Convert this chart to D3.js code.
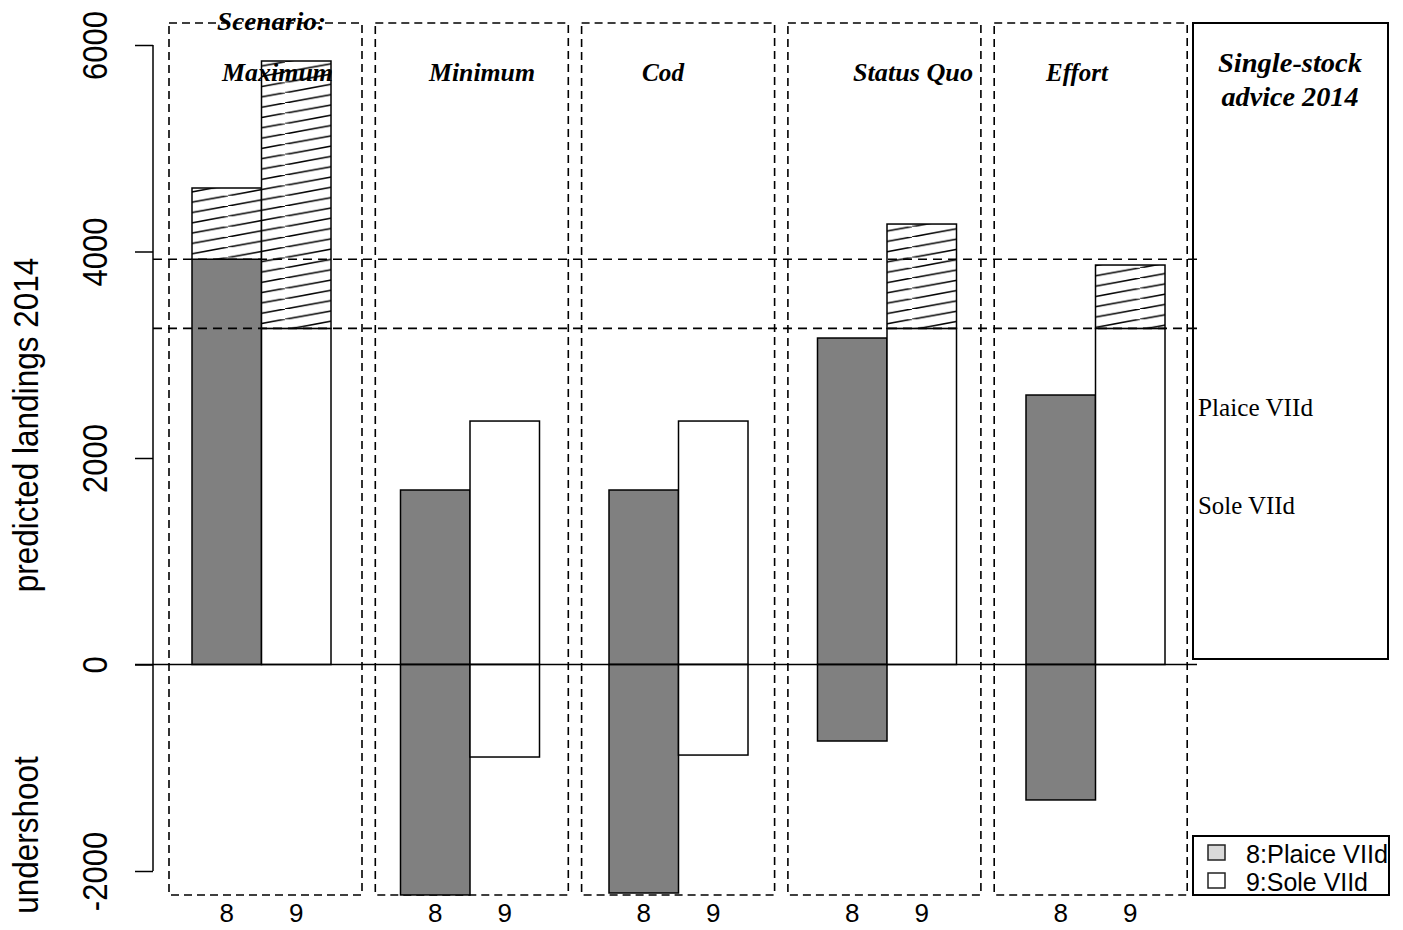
<!DOCTYPE html>
<html>
<head>
<meta charset="utf-8">
<script src="https://cdn.jsdelivr.net/npm/d3@7"></script>
<style>
html,body{margin:0;padding:0;background:#fff;}
svg{display:block;}
</style>
</head>
<body>
<script>
// ---------- data ----------
const scenarios = ["Maximum", "Minimum", "Cod", "Status Quo", "Effort"];
const stocks = ["Plaice VIId", "Sole VIId"];
const stockCodes = ["8", "9"];
const legendLabels = ["8:Plaice VIId", "9:Sole VIId"];
const adviceValues = [3925, 3255];               // single-stock advice 2014 (plaice, sole)
const plaiceLandings = [4615, 1690, 1690, 3162, 2610];
const soleLandings = [5845, 2358, 2358, 4266, 3869];
const plaiceUndershoot = [0, -2232, -2213, -741, -1312];
const soleUndershoot = [0, -896, -877, 0, 0];
const yTicks = [-2000, 0, 2000, 4000, 6000];
const yTickLabels = ["-2000", "0", "2000", "4000", "6000"];

// ---------- layout ----------
const W = 1403, H = 930;
const svg = d3.select("body").append("svg").attr("width", W).attr("height", H);

const y = d3.scaleLinear().domain([-2000, 6000]).range([871, 45]);
const x = d3.scaleLinear().domain([0, 1]).range([122.5, 192]); // bar units
const panelX = d3.scaleLinear().domain([0, 1]).range([169, 375.3]);
const panelW = 193, panelTop = 23, panelBottom = 895;

// hatch pattern
const defs = svg.append("defs");
const tileW = 57, tileH = 10.3;
const pat = defs.append("pattern").attr("id", "hatch")
  .attr("patternUnits", "userSpaceOnUse")
  .attr("width", tileW).attr("height", tileH);
pat.append("rect").attr("width", tileW).attr("height", tileH).attr("fill", "#fff");
pat.append("line").attr("x1", -tileW * 0.1).attr("y1", tileH * 1.1)
  .attr("x2", tileW * 1.1).attr("y2", -tileH * 0.1)
  .attr("stroke", "#000").attr("stroke-width", 1.6);

// panels (dashed)
svg.append("g").selectAll("rect").data(scenarios).join("rect")
  .attr("x", (d, i) => panelX(i)).attr("y", panelTop)
  .attr("width", panelW).attr("height", panelBottom - panelTop)
  .attr("fill", "none").attr("stroke", "#000").attr("stroke-width", 1.6)
  .attr("stroke-dasharray", "8,5");

// bars
const gBars = svg.append("g");
function drawStock(values, under, advice, k, fill) {
  values.forEach((v, i) => {
    const u0 = 1 + 3 * i + k, u1 = u0 + 1;
    const base = Math.min(v, advice);
    gBars.append("rect")
      .attr("x", x(u0)).attr("width", x(u1) - x(u0))
      .attr("y", y(base)).attr("height", y(0) - y(base))
      .attr("fill", fill).attr("stroke", "#000").attr("stroke-width", 1.5);
    if (v > advice) {
      gBars.append("rect")
        .attr("x", x(u0)).attr("width", x(u1) - x(u0))
        .attr("y", y(v)).attr("height", y(advice) - y(v))
        .attr("fill", "url(#hatch)").attr("stroke", "#000").attr("stroke-width", 1.5);
    }
    if (under[i] < 0) {
      gBars.append("rect")
        .attr("x", x(u0)).attr("width", x(u1) - x(u0))
        .attr("y", y(0)).attr("height", y(under[i]) - y(0))
        .attr("fill", fill).attr("stroke", "#000").attr("stroke-width", 1.5);
    }
  });
}
drawStock(plaiceLandings, plaiceUndershoot, adviceValues[0], 0, "#808080");
drawStock(soleLandings, soleUndershoot, adviceValues[1], 1, "#ffffff");

// advice lines
svg.append("g").selectAll("line").data(adviceValues).join("line")
  .attr("x1", 153).attr("x2", 1197)
  .attr("y1", d => y(d)).attr("y2", d => y(d))
  .attr("stroke", "#000").attr("stroke-width", 1.6).attr("stroke-dasharray", "9,6");

// zero line
svg.append("line").attr("x1", 135).attr("x2", 1197)
  .attr("y1", y(0)).attr("y2", y(0))
  .attr("stroke", "#000").attr("stroke-width", 1.5);

// y axis
const yAxis = d3.axisLeft(y).tickValues(yTicks).tickSize(18);
const gy = svg.append("g").attr("transform", "translate(153,0)").call(yAxis);
gy.select(".domain").attr("d", `M0,${y(-2000)}V${y(6000)}`).attr("stroke-width", 1.5);
gy.selectAll(".tick line").attr("stroke-width", 1.5);
gy.selectAll(".tick text").remove();
gy.selectAll(".tick").append("text")
  .attr("transform", "translate(-46,0) rotate(-90) scale(1,1.12)")
  .attr("text-anchor", "middle").attr("dy", 0)
  .attr("fill", "#000")
  .style("font-family", "'Liberation Sans', Arial, sans-serif").style("font-size", "31px")
  .text((d, i) => yTickLabels[i]);

// y axis titles
svg.append("text").attr("transform", "translate(38,425) rotate(-90) scale(1,1.1)")
  .attr("text-anchor", "middle")
  .style("font-family", "'Liberation Sans', Arial, sans-serif").style("font-size", "31.5px")
  .text("predicted landings 2014");
svg.append("text").attr("transform", "translate(38,835) rotate(-90) scale(1,1.1)")
  .attr("text-anchor", "middle")
  .style("font-family", "'Liberation Sans', Arial, sans-serif").style("font-size", "31.5px")
  .text("undershoot");

// x labels (stock codes)
const xl = [];
scenarios.forEach((s, i) => stockCodes.forEach((c, k) => xl.push({ u: 1.5 + 3 * i + k, c })));
svg.append("g").selectAll("text").data(xl).join("text")
  .attr("x", d => x(d.u)).attr("y", 922)
  .attr("text-anchor", "middle")
  .style("font-family", "'Liberation Sans', Arial, sans-serif").style("font-size", "26px")
  .text(d => d.c);

// scenario titles
const titleFont = "'Liberation Serif', 'Times New Roman', serif";
const titleX = [277.5, 482, 663, 913, 1077];
const titleW = [111, 106, 42, 120, 62];
svg.append("g").selectAll("text").data(scenarios).join("text")
  .attr("x", (d, i) => titleX[i]).attr("y", 81)
  .attr("text-anchor", "middle")
  .attr("textLength", (d, i) => titleW[i]).attr("lengthAdjust", "spacingAndGlyphs")
  .style("font-family", titleFont).style("font-size", "25px")
  .style("font-weight", "bold").style("font-style", "italic")
  .text(d => d);
svg.append("text").attr("x", 271.5).attr("y", 30).attr("text-anchor", "middle")
  .attr("textLength", 109).attr("lengthAdjust", "spacingAndGlyphs")
  .style("font-family", titleFont).style("font-size", "25px")
  .style("font-weight", "bold").style("font-style", "italic")
  .text("Scenario:");

// right advice box
svg.append("rect").attr("x", 1193).attr("y", 23).attr("width", 195).attr("height", 636)
  .attr("fill", "none").attr("stroke", "#000").attr("stroke-width", 2);
svg.append("text").attr("x", 1290).attr("y", 72).attr("text-anchor", "middle")
  .attr("textLength", 144).attr("lengthAdjust", "spacingAndGlyphs")
  .style("font-family", titleFont).style("font-size", "28px")
  .style("font-weight", "bold").style("font-style", "italic")
  .text("Single-stock");
svg.append("text").attr("x", 1290).attr("y", 106).attr("text-anchor", "middle")
  .attr("textLength", 137).attr("lengthAdjust", "spacingAndGlyphs")
  .style("font-family", titleFont).style("font-size", "28px")
  .style("font-weight", "bold").style("font-style", "italic")
  .text("advice 2014");
const stockLabelY = [416, 514];
const stockLabelW = [115, 97];
svg.append("g").selectAll("text").data(stocks).join("text")
  .attr("x", 1198).attr("y", (d, i) => stockLabelY[i])
  .attr("textLength", (d, i) => stockLabelW[i]).attr("lengthAdjust", "spacingAndGlyphs")
  .style("font-family", titleFont).style("font-size", "25px")
  .text(d => d);

// legend
svg.append("rect").attr("x", 1193).attr("y", 836).attr("width", 196).attr("height", 59)
  .attr("fill", "#fff").attr("stroke", "#000").attr("stroke-width", 2);
const legFill = ["#d9d9d9", "#ffffff"];
const legY = [855, 883];
const lg = svg.append("g").selectAll("g").data(legendLabels).join("g");
lg.append("rect").attr("x", 1208).attr("y", (d, i) => legY[i] - 10)
  .attr("width", 17).attr("height", 15)
  .attr("fill", (d, i) => legFill[i]).attr("stroke", "#222").attr("stroke-width", 1.5);
lg.append("text").attr("x", 1246).attr("y", (d, i) => legY[i] + 8)
  .attr("textLength", (d, i) => [142, 122][i]).attr("lengthAdjust", "spacingAndGlyphs")
  .style("font-family", "'Liberation Sans', Arial, sans-serif").style("font-size", "25px")
  .text(d => d);
</script>
</body>
</html>
